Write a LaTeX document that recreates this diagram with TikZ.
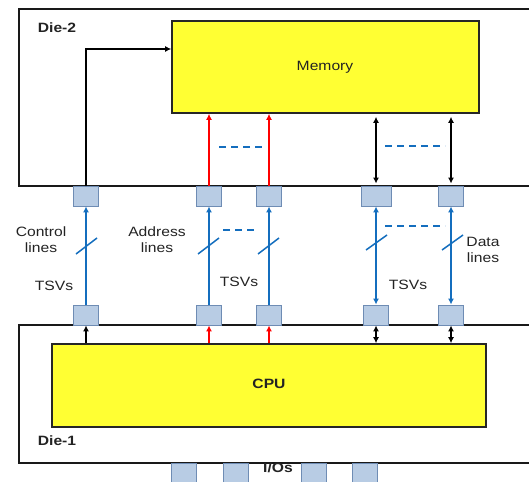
\documentclass[tikz,border=0pt]{standalone}
\usepackage{fontspec}
\setmainfont[FakeStretch=1.16]{Liberation Sans}
\usetikzlibrary{arrows.meta}
\definecolor{tsvblue}{RGB}{20,110,190}
\definecolor{padfill}{RGB}{184,204,228}
\definecolor{padline}{RGB}{110,140,180}
\definecolor{chipyellow}{RGB}{255,255,51}
\definecolor{txt}{RGB}{35,35,35}
\tikzset{
  die/.style={draw=black!90, line width=1.7pt, inner sep=0pt},
  chip/.style={draw=black!85, fill=chipyellow, line width=1.6pt, inner sep=0pt},
  pad/.style={draw=padline, fill=padfill, line width=0.9pt, minimum width=25pt, minimum height=20pt, inner sep=0pt},
  widepad/.style={pad, minimum width=30pt},
  iopad/.style={pad, minimum height=22pt},
  lbl/.style={text=txt, font=\fontsize{13.5}{16}\selectfont, align=center, inner sep=0pt},
  blbl/.style={lbl, font=\fontsize{13.5}{16}\selectfont\bfseries},
  ctl/.style={black, line width=1.8pt, -{Latex[length=6pt,width=6pt]}},
  addr/.style={red, line width=1.8pt, -{Latex[length=6pt,width=6pt]}},
  data/.style={black, line width=1.8pt, {Latex[length=6pt,width=6pt]}-{Latex[length=6pt,width=6pt]}},
  tsv/.style={tsvblue, line width=2pt, -{Latex[length=6pt,width=6pt]}},
  tsvdata/.style={tsvblue, line width=2pt, {Latex[length=6pt,width=6pt]}-{Latex[length=6pt,width=6pt]}},
  slash/.style={tsvblue, line width=1.5pt},
  dots/.style={tsvblue, line width=1.4pt, dash pattern=on 7pt off 5pt}
}
\begin{document}
\begin{tikzpicture}[x=1pt,y=-1pt]
\useasboundingbox (0,0) rectangle (529,481);
\clip (0,0) rectangle (529,481);
\fill[white] (0,0) rectangle (529,481);
% dies
\node[die, minimum width=526pt, minimum height=177pt] (die2) at (282,97.5) {};
\node[die, minimum width=526pt, minimum height=138pt] (die1) at (282,394) {};
% chips
\node[chip, minimum width=307pt, minimum height=92pt] (mem) at (325.5,67) {};
\node[lbl] (memlbl) at (325,67) {Memory};
\node[chip, minimum width=434pt, minimum height=83pt] (cpu) at (269,385.5) {};
\node[blbl] (cpulbl) at (269,384) {CPU};
\node[blbl] (d2lbl) at (57,28) {Die-2};
\node[blbl] (d1lbl) at (57,441) {Die-1};
% top pads
\node[pad] (ct) at (86,196) {};
\node[pad] (at1) at (209,196) {};
\node[pad] (at2) at (269,196) {};
\node[widepad] (dt1) at (376,196) {};
\node[pad] (dt2) at (451,196) {};
% bottom pads
\node[pad] (cb) at (86,315) {};
\node[pad] (ab1) at (209,315) {};
\node[pad] (ab2) at (269,315) {};
\node[pad] (db1) at (376,315) {};
\node[pad] (db2) at (451,315) {};
% IO pads
\node[iopad] (io1) at (184,474) {};
\node[iopad] (io2) at (235.5,474) {};
\node[iopad] (io3) at (313.5,474) {};
\node[iopad] (io4) at (365,474) {};
\node[blbl] (iolbl) at (278,468) {I/Os};
% die-2 connections
\coordinate (cturn) at (86,49);
\draw[ctl] (ct.north) -- (cturn) -- (cturn -| mem.west);
\draw[addr] (at1.north) -- (at1.north |- mem.south);
\draw[addr] (at2.north) -- (at2.north |- mem.south);
\draw[data] ([yshift=2pt]dt1.north) -- ([yshift=-3pt]dt1.north |- mem.south);
\draw[data] ([yshift=2pt]dt2.north) -- ([yshift=-3pt]dt2.north |- mem.south);
\draw[dots] (219,147) -- (263,147);
\draw[dots] (385,146) -- (445,146);
% TSVs
\draw[tsv] (cb.north) -- (ct.south);
\draw[tsv] (ab1.north) -- (at1.south);
\draw[tsv] (ab2.north) -- (at2.south);
\draw[tsvdata] (db1.north) -- (dt1.south);
\draw[tsvdata] (db2.north) -- (dt2.south);
\draw[slash] (76,254) -- (97,238);
\draw[slash] (198,254) -- (219,238);
\draw[slash] (258,254) -- (279,238);
\draw[slash] (366,250) -- (387,235);
\draw[slash] (442,250) -- (463,235);
\draw[dots] (223,230) -- (256,230);
\draw[dots] (385,226) -- (445,226);
\node[lbl] (ctllbl) at (41,240) {Control\\lines};
\node[lbl] (tsv1) at (54,286) {TSVs};
\node[lbl] (addrlbl) at (157,240) {Address\\lines};
\node[lbl] (tsv2) at (239,282) {TSVs};
\node[lbl] (tsv3) at (408,285) {TSVs};
\node[lbl] (datalbl) at (483,250) {Data\\lines};
% die-1 connections
\draw[ctl] (cb.south |- cpu.north) -- (cb.south);
\draw[addr] (ab1.south |- cpu.north) -- (ab1.south);
\draw[addr] (ab2.south |- cpu.north) -- (ab2.south);
\draw[data] (db1.south |- cpu.north) -- (db1.south);
\draw[data] (db2.south |- cpu.north) -- (db2.south);
\end{tikzpicture}
\end{document}
